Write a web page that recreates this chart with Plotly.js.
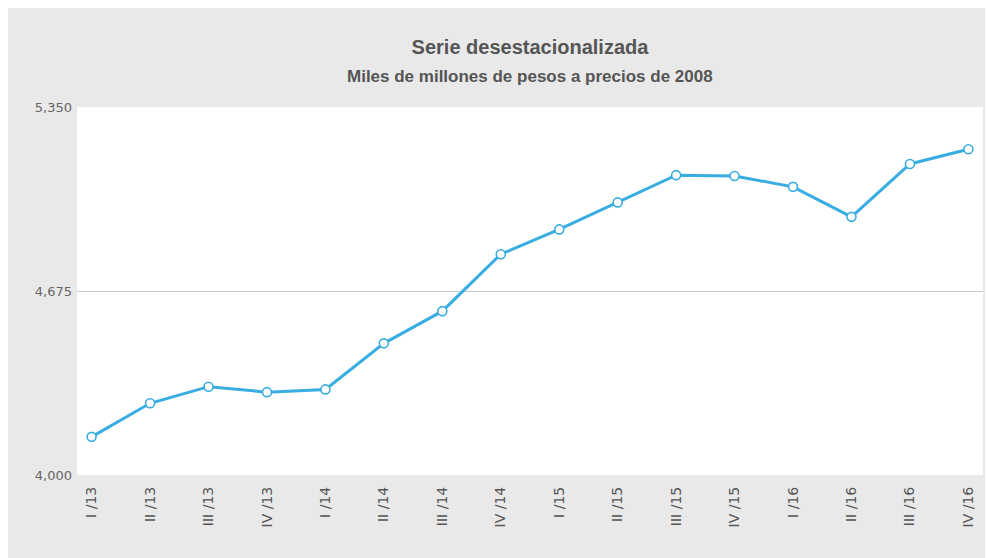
<!DOCTYPE html>
<html>
<head>
<meta charset="utf-8">
<script src="https://cdn.plot.ly/plotly-3.0.1.min.js"></script>
<style>
  html, body { margin: 0; padding: 0; background: #ffffff; width: 987px; height: 558px; overflow: hidden; }
  #chart { position: absolute; left: 8px; top: 8px; width: 977px; height: 550px; }
</style>
</head>
<body>
<div id="chart"></div>
<script>
const categories = ["I /13", "II /13", "III /13", "IV /13",
                    "I /14", "II /14", "III /14", "IV /14",
                    "I /15", "II /15", "III /15", "IV /15",
                    "I /16", "II /16", "III /16", "IV /16"];
const values = [4140, 4263, 4324, 4304,
                4314, 4483, 4601, 4810,
                4901, 5000, 5100, 5097,
                5057, 4947, 5141, 5195];
const yTicks = [4000, 4675, 5350];
const yTickLabels = ["4,000", "4,675", "5,350"];
const titleText = "Serie desestacionalizada";
const subtitleText = "Miles de millones de pesos a precios de 2008";

const idx = categories.map((c, i) => i);

const trace = {
  x: idx,
  y: values,
  type: 'scatter',
  mode: 'lines+markers',
  line: { color: '#38ade1', width: 3 },
  marker: { size: 9, color: '#ffffff', line: { color: '#38ade1', width: 1.6 } },
  hoverinfo: 'x+y'
};

const layout = {
  width: 977,
  height: 550,
  margin: { l: 69, r: 2, t: 99, b: 83 },
  paper_bgcolor: '#e9e9e9',
  plot_bgcolor: '#ffffff',
  showlegend: false,
  font: { family: 'Liberation Sans, Arial, sans-serif', color: '#555555' },
  title: {
    text: '<b>' + titleText + '</b>',
    font: { size: 20, color: '#555555', family: 'Liberation Sans, Arial, sans-serif' },
    xref: 'paper', x: 0.5, xanchor: 'center',
    yref: 'container', y: 1 - 39 / 550, yanchor: 'middle'
  },
  annotations: [{
    text: '<b>' + subtitleText + '</b>',
    xref: 'paper', yref: 'paper',
    x: 0.5, xanchor: 'center',
    y: (467 - 69) / 368, yanchor: 'middle',
    showarrow: false,
    font: { size: 17, color: '#555555', family: 'Liberation Sans, Arial, sans-serif' }
  }],
  xaxis: {
    range: [-0.25, categories.length - 0.75],
    tickmode: 'array',
    tickvals: idx,
    ticktext: categories,
    tickangle: -90,
    showgrid: false,
    zeroline: false,
    showline: false,
    ticks: '',
    ticklabelstandoff: 8,
    tickfont: { size: 14, color: '#555555', family: 'DejaVu Sans, Verdana, sans-serif' },
    fixedrange: true
  },
  yaxis: {
    range: [4000, 5350],
    tickmode: 'array',
    tickvals: yTicks,
    ticktext: yTickLabels,
    showgrid: true,
    gridcolor: '#c8c8c8',
    gridwidth: 1,
    zeroline: false,
    showline: false,
    ticks: '',
    ticklabelstandoff: 4,
    tickfont: { size: 13, color: '#666666', family: 'DejaVu Sans, Verdana, sans-serif' },
    fixedrange: true
  }
};

Plotly.newPlot('chart', [trace], layout, { displayModeBar: false, staticPlot: true });
</script>
</body>
</html>
